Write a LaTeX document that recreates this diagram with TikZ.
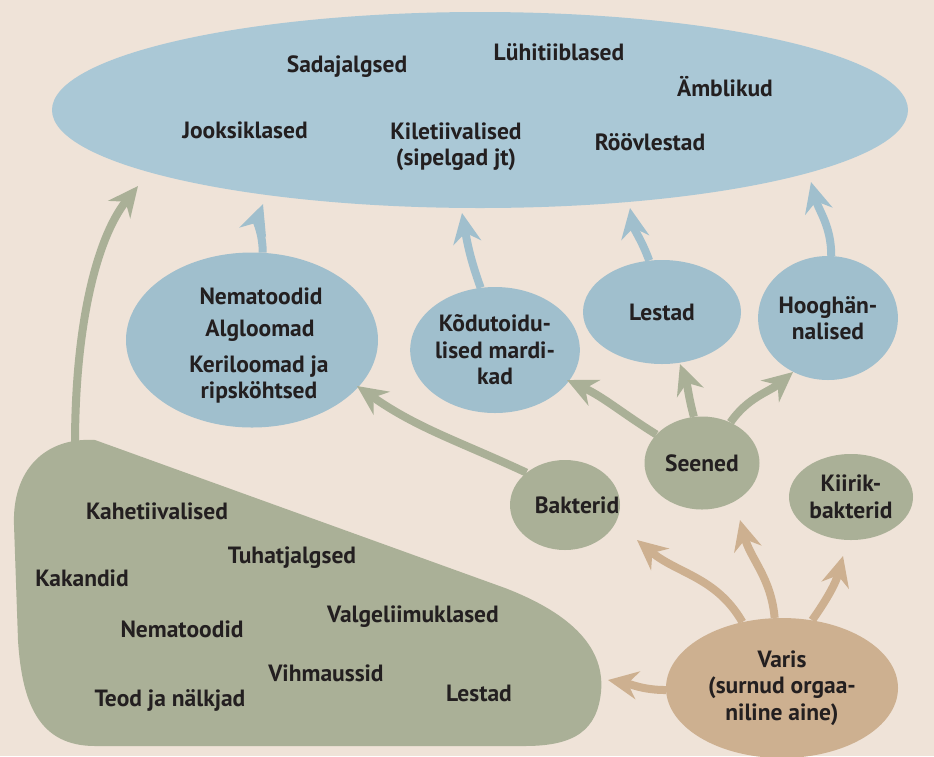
\documentclass[tikz,border=0pt]{standalone}
\usepackage{fontspec}
\setmainfont{PT Sans}
\usetikzlibrary{arrows.meta,shapes.geometric}
\definecolor{bg}{HTML}{EFE3D8}
\definecolor{topblue}{HTML}{AAC8D6}
\definecolor{nblue}{HTML}{A0BFCD}
\definecolor{ngreen}{HTML}{AAB097}
\definecolor{ntan}{HTML}{CDB090}
\definecolor{ink}{HTML}{231F20}
\begin{document}
\begin{tikzpicture}[x=1pt,y=-1pt,
  lbl/.style={font=\bfseries\fontsize{23.5}{26}\selectfont, text=ink, align=center, inner sep=0pt},
  bubble/.style={ellipse, inner sep=0pt, draw=none, font=\bfseries\fontsize{23.5}{26.5}\selectfont, text=ink, align=center},
  flow/.style={line width=8pt, -{Stealth[length=30pt,width=28pt,inset=10pt]}},
  bflow/.style={flow, draw=nblue},
  gflow/.style={flow, draw=ngreen},
  tflow/.style={flow, draw=ntan}]
\fill[bg] (0,0) rectangle (934,756);
\useasboundingbox (0,0) rectangle (934,756);

% top ellipse
\node[bubble, fill=topblue, minimum width=856pt, minimum height=196pt] (top) at (480,110) {};
\node[lbl] (t1) at (347,67) {Sadajalgsed};
\node[lbl] (t2) at (559,52) {Lühitiiblased};
\node[lbl] (t3) at (725,87) {Ämblikud};
\node[lbl] (t4) at (245,130) {Jooksiklased};
\node[lbl] (t5) at (456,147) {Kiletiivalised\\(sipelgad jt)};
\node[lbl] (t6) at (650,142) {Röövlestad};

% blue ellipses
\node[bubble, fill=nblue, minimum width=252pt, minimum height=175pt] (lb) at (252,340) {};
\node[lbl] (lb1) at (261,296) {Nematoodid};
\node[lbl] (lb2) at (260,331) {Algloomad};
\node[lbl] (lb3) at (259,379) {Keriloomad ja\\ripsköhtsed};
\node[bubble, fill=nblue, minimum width=160pt, minimum height=126pt] (kodu) at (495,350) {Kõdutoidu-\\lised mardi-\\kad};
\node[bubble, fill=nblue, minimum width=158pt, minimum height=104pt] (lestad) at (662,312) {Lestad};
\node[bubble, fill=nblue, minimum width=137pt, minimum height=124pt] (hoog) at (828,318) {Hooghän-\\nalised};

% green
\node[bubble, fill=ngreen, minimum width=115pt, minimum height=93pt] (seened) at (702,463) {Seened};
\node[bubble, fill=ngreen, minimum width=110pt, minimum height=90pt] (bakt) at (565,505) {};
\node[lbl] (bakttext) at (577,505) {Bakterid};
\node[bubble, fill=ngreen, minimum width=124pt, minimum height=86pt] (kiir) at (851,497) {Kiirik-\\bakterid};

% blob
\fill[ngreen] (95,440) -- (505,588) .. controls (575,615) and (605,650) .. (601,692)
  .. controls (597,730) and (575,746) .. (525,746) -- (95,746)
  .. controls (40,746) and (22,705) .. (18,640) -- (14,525)
  .. controls (12,470) and (45,437) .. (95,440) -- cycle;
\coordinate (blobtop) at (75,445);
\node[lbl] (b1) at (157,511) {Kahetiivalised};
\node[lbl] (b2) at (82,578) {Kakandid};
\node[lbl] (b3) at (292,558) {Tuhatjalgsed};
\node[lbl] (b4) at (182,629) {Nematoodid};
\node[lbl] (b5) at (413,617) {Valgeliimuklased};
\node[lbl] (b6) at (326,673) {Vihmaussid};
\node[lbl] (b7) at (170,700) {Teod ja nälkjad};
\node[lbl] (b8) at (479,693) {Lestad};

% tan
\node[bubble, fill=ntan, minimum width=232pt, minimum height=140pt] (varis) at (782,688) {Varis\\(surnud orgaa-\\niline aine)};

% arrow targets
\coordinate (a1) at (138,186);
\coordinate (a2) at (263,204);
\coordinate (a3) at (462,213);
\coordinate (a4) at (630,208);
\coordinate (a5) at (811,182);
\coordinate (a6) at (357,386);
\coordinate (a7) at (567,380);
\coordinate (a8) at (680,364);
\coordinate (a9) at (793,372);
\coordinate (a10) at (608,680);
\coordinate (a11) at (637,540);
\coordinate (a12) at (740,520);
\coordinate (a13) at (843,556);

% arrows
\draw[gflow] (blobtop) .. controls (75,330) and (95,240) .. (a1);
\draw[bflow] (lb.83) to[out=90,in=-110] (a2);
\draw[bflow] (kodu.103) to[out=110,in=-80] (a3);
\draw[bflow] (lestad.104) to[out=110,in=-80] (a4);
\draw[bflow] (hoog.87) to[out=90,in=-75] (a5);
\draw[gflow] (bakt.140) to[out=155,in=-35] (a6);
\draw[gflow] (seened.148) to[out=148,in=-25] (a7);
\draw[gflow] (seened.100) to[out=105,in=-70] (a8);
\draw[gflow] (seened.55) to[out=55,in=-140] (a9);
\draw[tflow] (varis.181) to[out=180,in=-10] (a10);
\draw[tflow] (varis.121) to[out=120,in=-40] (a11);
\draw[tflow] (varis.96) to[out=95,in=-75] (a12);
\draw[tflow] (varis.66) to[out=55,in=-105] (a13);
\end{tikzpicture}
\end{document}
